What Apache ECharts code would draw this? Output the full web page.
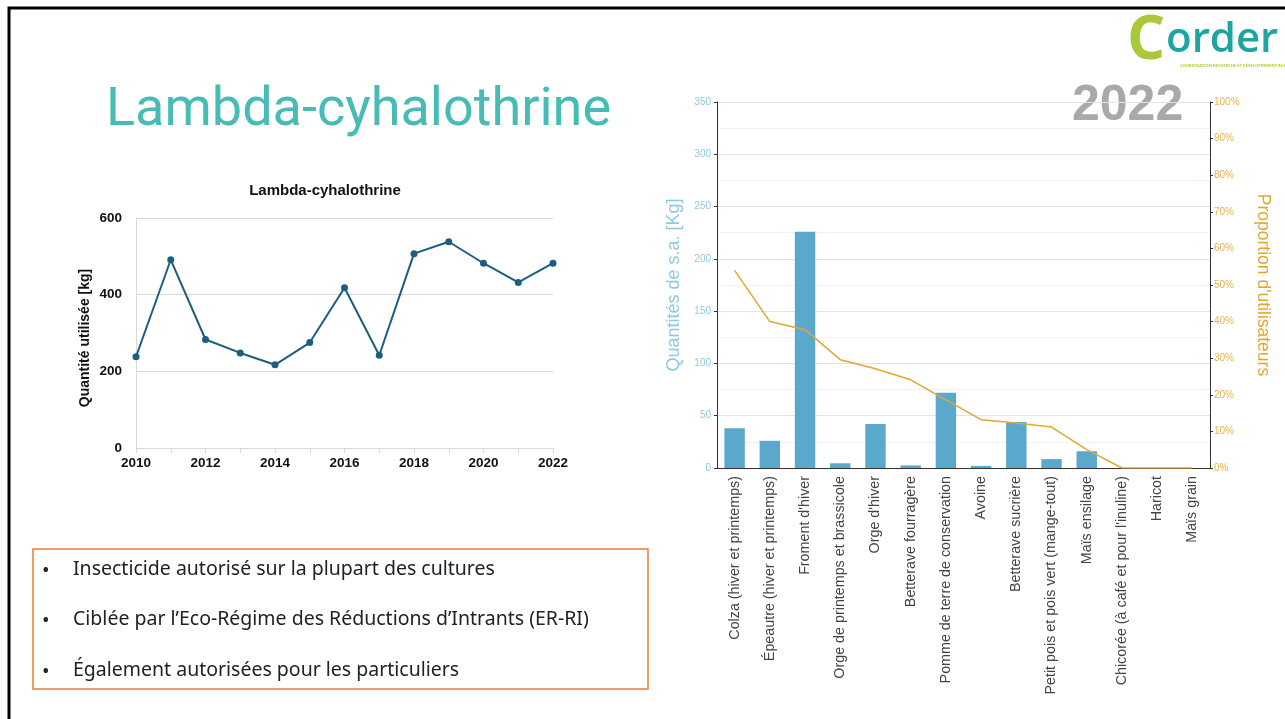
<!DOCTYPE html>
<html>
<head>
<meta charset="utf-8">
<script src="https://cdn.jsdelivr.net/npm/echarts@6/dist/echarts.min.js"></script>
<style>
  html, body { margin: 0; padding: 0; background: #fff; }
  #main { width: 1285px; height: 719px; }
</style>
</head>
<body>
<div id="main"></div>
<script>
// série annuelle (graphique de gauche)
var years = ['2010', '2011', '2012', '2013', '2014', '2015', '2016', '2017', '2018', '2019', '2020', '2021', '2022'];
var yearKg = [238, 491, 283, 248, 217, 275, 418, 242, 507, 538, 482, 432, 482];

// 2022 par culture (graphique de droite)
var crops = [
  'Colza (hiver et printemps)',
  'Épeautre (hiver et printemps)',
  "Froment d'hiver",
  'Orge de printemps et brassicole',
  "Orge d'hiver",
  'Betterave fourragère',
  'Pomme de terre de conservation',
  'Avoine',
  'Betterave sucrière',
  'Petit pois et pois vert (mange-tout)',
  'Maïs ensilage',
  "Chicorée (à café et pour l'inuline)",
  'Haricot',
  'Maïs grain'
];
var cropKg = [38, 26, 226, 4.5, 42, 2.5, 72, 2, 44, 8.5, 16, 0, 0, 0];
var cropUsers = [0.54, 0.40, 0.378, 0.296, 0.271, 0.241, 0.186, 0.132, 0.123, 0.112, 0.05, 0, 0, 0];

var bullets = [
  'Insecticide autorisé sur la plupart des cultures',
  "Ciblée par l\u2019Eco-Régime des Réductions d\u2019Intrants (ER-RI)",
  'Également autorisées pour les particuliers'
];

var chart = echarts.init(document.getElementById('main'));

var bulletGraphics = [];
bullets.forEach(function (b, i) {
  var y = 568 + i * 50.5;
  bulletGraphics.push({
    type: 'text', left: 42, top: y - 7,
    style: { text: '\u2022', font: '20px "Noto Sans"', fill: '#222' }
  });
  bulletGraphics.push({
    type: 'text', left: 73, top: y - 9,
    style: { text: b, font: '19.5px "Noto Sans"', fill: '#222' }
  });
});

chart.setOption({
  animation: false,
  title: {
    text: 'Lambda-cyhalothrine',
    left: 320, top: 178, textAlign: 'center',
    textStyle: { fontFamily: 'Liberation Sans', fontWeight: 'bold', fontSize: 15, color: '#111' }
  },
  graphic: [
    // cadre de la diapo
    { type: 'polyline', shape: { points: [[9, 719], [9, 8], [1285, 8]] }, style: { stroke: '#000', lineWidth: 3, fill: null } },
    { type: 'text', left: 106, top: 84,
      style: { text: 'Lambda-cyhalothrine', font: '54px Roboto', fill: '#47bcb4' } },
    // logo
    { type: 'text', left: 1127, top: 12, style: { text: 'C', font: 'bold 60px "Open Sans"', fill: '#a9c93a' } },
    { type: 'text', left: 1166, top: 19, style: { text: 'order', font: '600 42px "Open Sans"', fill: '#1ea5a0' } },
    { type: 'text', left: 1180, top: 64, style: { text: 'COORDINATION RECHERCHE ET DÉVELOPPEMENT RURAL', font: 'bold 4px "Noto Sans"', fill: '#b9c94a' } },
    { type: 'text', left: 1072, top: 81, style: { text: '2022', font: 'bold 50px "Liberation Sans"', fill: '#a9a9a9' } },
    // encadré
    { type: 'rect', shape: { x: 33, y: 549, width: 615, height: 140 }, style: { fill: null, stroke: '#ed7d31', lineWidth: 1.5 } }
  ].concat(bulletGraphics),
  grid: [
    { left: 136, top: 218, width: 417, height: 230 },
    { left: 717, top: 102, width: 493, height: 366 }
  ],
  xAxis: [
    {
      gridIndex: 0, type: 'category', data: years, boundaryGap: false,
      axisLine: { lineStyle: { color: '#d9d9d9' } },
      axisTick: { show: true, interval: 0, length: 5, lineStyle: { color: '#d9d9d9' } },
      axisLabel: { interval: 1, color: '#111', fontWeight: 'bold', fontSize: 13.5, fontFamily: 'Liberation Sans', margin: 8 }
    },
    {
      gridIndex: 1, type: 'category', data: crops,
      axisLine: { lineStyle: { color: '#333' } },
      axisTick: { show: false },
      axisLabel: { interval: 0, rotate: 90, color: '#444', fontSize: 14.3, fontFamily: 'Liberation Sans', margin: 8 }
    }
  ],
  yAxis: [
    {
      gridIndex: 0, type: 'value', min: 0, max: 600, interval: 200,
      name: 'Quantité utilisée [kg]', nameLocation: 'middle', nameGap: 44,
      nameTextStyle: { fontWeight: 'bold', fontSize: 14, color: '#111', fontFamily: 'Liberation Sans', padding: [0, 0, 0, -10] },
      axisLine: { show: true, lineStyle: { color: '#d9d9d9' } },
      axisLabel: { color: '#111', fontWeight: 'bold', fontSize: 13.5, fontFamily: 'Liberation Sans', margin: 14 },
      splitLine: { lineStyle: { color: '#d9d9d9' } }
    },
    {
      gridIndex: 1, type: 'value', min: 0, max: 350, interval: 50,
      name: 'Quantités de s.a. [Kg]', nameLocation: 'middle', nameGap: 34,
      nameTextStyle: { fontSize: 18, color: '#8ec9df', fontFamily: 'Liberation Sans' },
      axisLine: { show: true, lineStyle: { color: '#333' } },
      axisTick: { show: true, length: 3, lineStyle: { color: '#333' } },
      axisLabel: { color: '#8ec9df', fontSize: 10, fontFamily: 'Liberation Sans', margin: 6 },
      splitLine: { lineStyle: { color: '#e3e3e3' } },
      minorTick: { show: false, splitNumber: 2 },
      minorSplitLine: { show: true, lineStyle: { color: '#f2f2f2' } }
    },
    {
      gridIndex: 1, type: 'value', min: 0, max: 1, interval: 0.1, position: 'right',
      name: "Proportion d'utilisateurs", nameLocation: 'middle', nameGap: 44, nameRotate: -90,
      nameTextStyle: { fontSize: 17.5, color: '#e0a830', fontFamily: 'Liberation Sans' },
      axisLine: { show: true, lineStyle: { color: '#333' } },
      axisTick: { show: true, inside: false, length: 3, lineStyle: { color: '#333' } },
      axisLabel: {
        color: '#e8b24a', fontSize: 10, fontFamily: 'Liberation Sans', margin: 4,
        formatter: function (v) { return Math.round(v * 100) + '%'; }
      },
      splitLine: { show: false }
    }
  ],
  series: [
    {
      type: 'line', xAxisIndex: 0, yAxisIndex: 0, data: yearKg,
      symbol: 'circle', symbolSize: 7,
      lineStyle: { color: '#1b5e80', width: 2 },
      itemStyle: { color: '#1b5e80' }
    },
    {
      type: 'bar', xAxisIndex: 1, yAxisIndex: 1, data: cropKg,
      barWidth: '58%', itemStyle: { color: '#5aa8cb' }
    },
    {
      type: 'line', xAxisIndex: 1, yAxisIndex: 2, data: cropUsers,
      symbol: 'none', lineStyle: { color: '#e0a830', width: 1.5 }
    }
  ]
});
</script>
</body>
</html>
